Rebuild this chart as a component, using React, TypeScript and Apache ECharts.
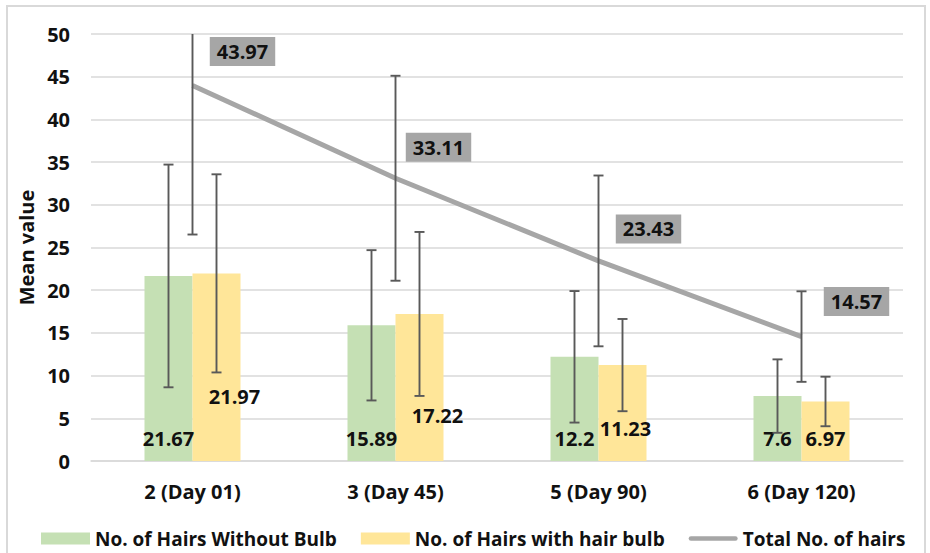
import React, { useEffect, useRef } from "react";
import * as echarts from "echarts";

const categories = ["2 (Day 01)", "3 (Day 45)", "5 (Day 90)", "6 (Day 120)"];
const withoutBulb = [21.67, 15.89, 12.2, 7.6];
const withBulb = [21.97, 17.22, 11.23, 6.97];
const totalHairs = [43.97, 33.11, 23.43, 14.57];
const withoutBulbSD = [13.04, 8.8, 7.7, 4.3];
const withBulbSD = [11.6, 9.6, 5.4, 2.9];
const totalSD = [17.45, 12.0, 10.0, 5.3];
const yTicks = { min: 0, max: 50, interval: 5 };

// label placement (styling only)
const withBulbLabelOffsets = [
  [18, -65],
  [18, -46],
  [3, -33],
  [0, -23],
];
const totalLabelOffsets = [
  [50, -34],
  [43, -31],
  [50, -32],
  [55, -35],
];

const FONT = "'Open Sans', 'Liberation Sans', sans-serif";
const BAR_W = 48;

function errSeries(means: number[], sd: number[], offsetPx: number) {
  return {
    type: "custom",
    clip: true,
    z: 10,
    silent: true,
    data: means.map((m, i) => [i, m - sd[i], m + sd[i]]),
    encode: { x: 0, y: [1, 2] },
    renderItem: (params: any, api: any) => {
      const i = api.value(0);
      const lo = api.coord([i, api.value(1)]);
      const hi = api.coord([i, api.value(2)]);
      const x = lo[0] + offsetPx;
      const cap = 5;
      const st = { stroke: "#595959", lineWidth: 1.9 };
      return {
        type: "group",
        children: [
          { type: "line", shape: { x1: x, y1: hi[1], x2: x, y2: lo[1] }, style: st },
          { type: "line", shape: { x1: x - cap, y1: hi[1], x2: x + cap, y2: hi[1] }, style: st },
          { type: "line", shape: { x1: x - cap, y1: lo[1], x2: x + cap, y2: lo[1] }, style: st },
        ],
      };
    },
  };
}

export default function App() {
  const ref = useRef<HTMLDivElement>(null);
  useEffect(() => {
    if (!ref.current) return;
    const chart = echarts.init(ref.current, null, { renderer: "svg" });
    const labelBase = {
      show: true,
      fontFamily: FONT,
      fontWeight: "bold",
      fontSize: 20,
      color: "#111",
    };
    chart.setOption({
      animation: false,
      backgroundColor: "#ffffff",
      textStyle: { fontFamily: FONT },
      graphic: [
        {
          type: "rect",
          shape: { x: 7, y: 6, width: 918, height: 570 },
          style: { fill: "none", stroke: "#d9d9d9", lineWidth: 2 },
          z: -10,
          silent: true,
        },
      ],
      grid: { left: 91, right: 27, top: 34, bottom: 92 },
      legend: {
        left: 36,
        top: 524,
        itemWidth: 49,
        itemHeight: 12,
        itemGap: 24,
        textStyle: { fontFamily: FONT, fontSize: 19, fontWeight: "bold", color: "#111" },
        data: [
          { name: "No. of Hairs Without Bulb", icon: "rect" },
          { name: "No. of Hairs with hair bulb", icon: "rect" },
          {
            name: "Total No. of hairs",
            icon: "path://M2.5,0 L51.5,0 A2.5,2.5 0 0 1 51.5,5 L2.5,5 A2.5,2.5 0 0 1 2.5,0 Z",
            itemStyle: { color: "#A6A6A6" },
          },
        ],
      },
      xAxis: {
        type: "category",
        data: categories,
        axisLine: { show: true, lineStyle: { color: "#d9d9d9", width: 1.5 } },
        axisTick: { show: false },
        axisLabel: {
          fontFamily: FONT,
          fontWeight: "bold",
          fontSize: 20,
          color: "#111",
          margin: 20,
        },
      },
      yAxis: {
        type: "value",
        min: yTicks.min,
        max: yTicks.max,
        interval: yTicks.interval,
        name: "Mean value",
        nameLocation: "middle",
        nameGap: 55,
        nameTextStyle: { fontFamily: FONT, fontWeight: "bold", fontSize: 20, color: "#111" },
        axisLine: { show: false },
        axisTick: { show: false },
        axisLabel: {
          fontFamily: FONT,
          fontWeight: "bold",
          fontSize: 20,
          color: "#111",
          margin: 21,
        },
        splitLine: { lineStyle: { color: "#d9d9d9", width: 1.5 } },
      },
      series: [
        {
          name: "No. of Hairs Without Bulb",
          type: "bar",
          barWidth: BAR_W,
          barGap: "0%",
          itemStyle: { color: "#C5E0B4" },
          data: withoutBulb,
          label: {
            ...labelBase,
            position: ["50%", "100%"],
            align: "center",
            verticalAlign: "middle",
            offset: [0, -23],
          },
          z: 2,
        },
        {
          name: "No. of Hairs with hair bulb",
          type: "bar",
          barWidth: BAR_W,
          barGap: "0%",
          itemStyle: { color: "#FFE699" },
          data: withBulb.map((v, i) => ({
            value: v,
            label: { offset: withBulbLabelOffsets[i] },
          })),
          label: {
            ...labelBase,
            position: ["50%", "100%"],
            align: "center",
            verticalAlign: "middle",
          },
          z: 2,
        },
        {
          name: "Total No. of hairs",
          type: "line",
          symbol: "circle",
          symbolSize: 1,
          itemStyle: { color: "#A6A6A6" },
          lineStyle: { color: "#A6A6A6", width: 5 },
          data: totalHairs.map((v, i) => ({
            value: v,
            label: { offset: totalLabelOffsets[i] },
          })),
          label: {
            ...labelBase,
            position: "inside",
            align: "center",
            verticalAlign: "middle",
            backgroundColor: "#A6A6A6",
            padding: [5, 7, 4, 7],
          },
          z: 5,
        },
        errSeries(withoutBulb, withoutBulbSD, -BAR_W / 2),
        errSeries(withBulb, withBulbSD, BAR_W / 2),
        errSeries(totalHairs, totalSD, 0),
      ],
    });
    return () => chart.dispose();
  }, []);
  return (
    <div
      ref={ref}
      style={{ position: "fixed", left: 0, top: 0, width: 930, height: 553 }}
    />
  );
}
